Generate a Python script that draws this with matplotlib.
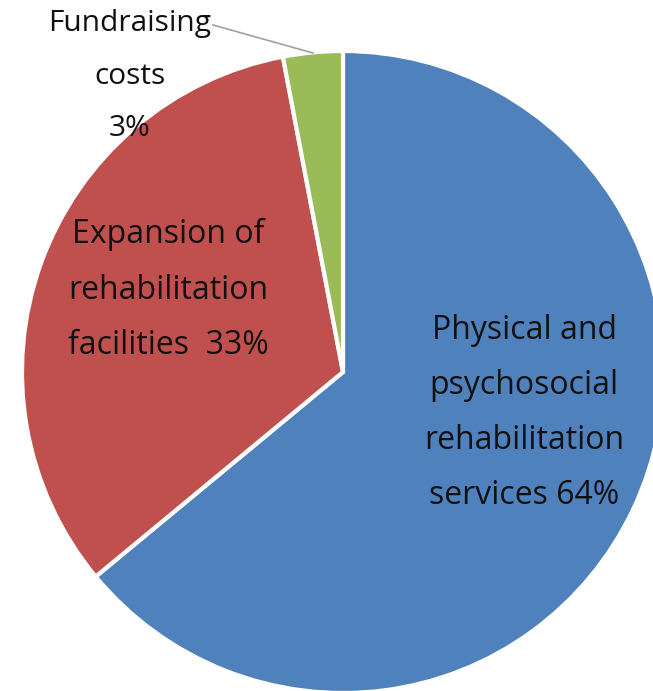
import matplotlib.pyplot as plt

# slice data (clockwise from 12 o'clock)
categories = ["Physical and\npsychosocial\nrehabilitation\nservices", "Expansion of\nrehabilitation\nfacilities ", "Fundraising\ncosts"]
shares = [64, 33, 3]
colors = ["#4F81BD", "#C0504D", "#9BBB59"]

plt.rcParams['font.family'] = ['Open Sans', 'DejaVu Sans']

fig = plt.figure(figsize=(6.53, 6.91), dpi=100)
ax = fig.add_axes([0, 0, 1, 1])

# pie clipped on the right like the original
ax.pie(shares, colors=colors, startangle=90, counterclock=False,
       center=(343, 319), radius=321,
       wedgeprops=dict(edgecolor='white', linewidth=3), frame=True)
ax.set_xlim(0, 653)
ax.set_ylim(0, 691)
ax.set_aspect('equal')
ax.axis('off')

label_pos = [(524, 278), (168, 401), (130, 615)]
label_size = [23, 23, 21.5]
label_sep = [" ", " ", "\n"]
label_ls = [1.89, 1.89, 2.08]
for name, val, (x, y), fs, sep, ls in zip(categories, shares, label_pos, label_size, label_sep, label_ls):
    ax.text(x, y, f"{name}{sep}{val}%", ha='center', va='center', fontsize=fs,
            linespacing=ls, color='#111111')

# leader line for the small slice
ax.plot([213, 313], [666, 638], color='#A0A0A0', linewidth=1.2)

fig.savefig("out.png", dpi=100)
